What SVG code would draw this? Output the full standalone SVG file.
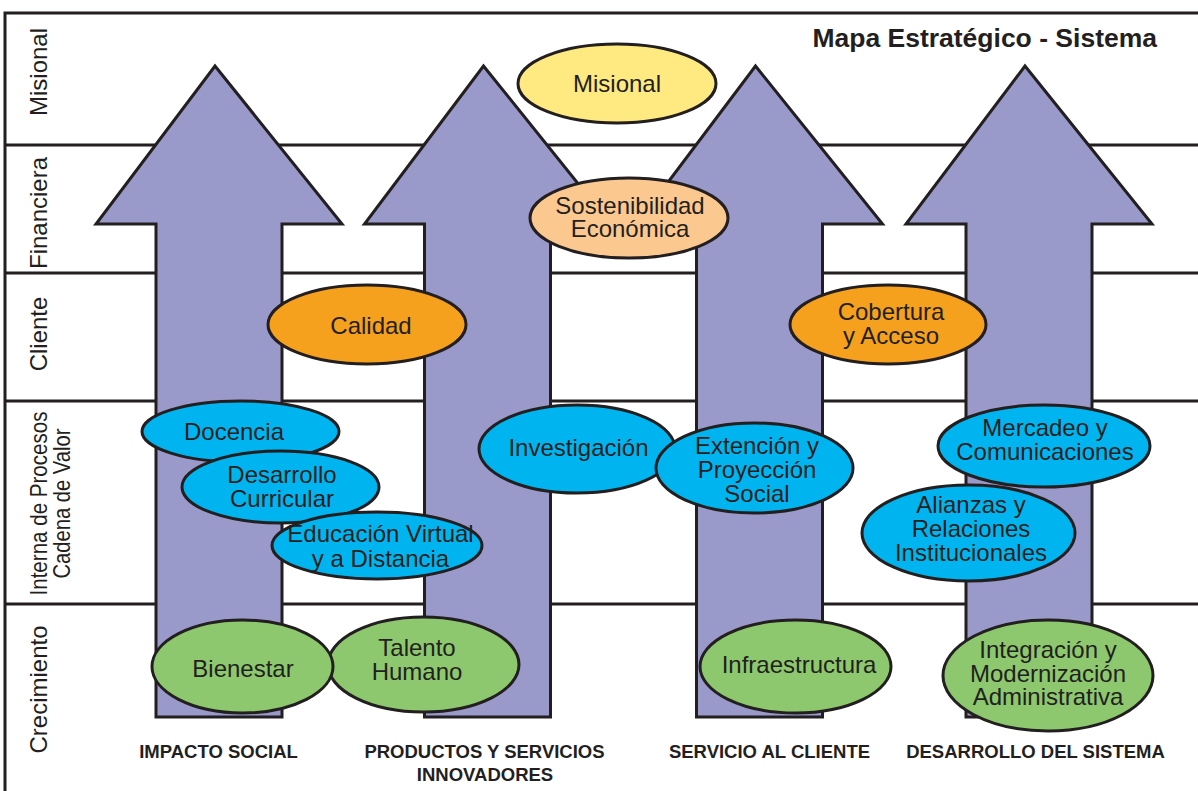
<svg xmlns="http://www.w3.org/2000/svg" width="1198" height="791" viewBox="0 0 1198 791">
<style>
.frame{fill:none;stroke:#231f20;stroke-width:3}
.arrow{fill:#9a9aca;stroke:#231f20;stroke-width:3;stroke-linejoin:miter}
.el{stroke:#231f20;stroke-width:3}
.yellow{fill:#ffe981}
.peach{fill:#fbc88f}
.orange{fill:#f6a11e}
.blue{fill:#00b5ef}
.green{fill:#8dc86e}
text{font-family:"Liberation Sans",Arial,sans-serif;fill:#231f20}
.lbl{font-size:24px;text-anchor:middle}
.row{font-size:24px;text-anchor:middle}
.col{font-size:18.5px;font-weight:bold;text-anchor:middle}
.title{font-size:26.5px;font-weight:bold;text-anchor:end}
</style>
<rect width="1198" height="791" fill="#ffffff"/>
<g id="grid">
<path class="frame" d="M5,791 V13 H1198 M5,145 H1198 M5,273 H1198 M5,401 H1198 M5,604 H1198"/>
</g>
<g id="row-labels">
<text class="row" transform="translate(47,72) rotate(-90)">Misional</text>
<text class="row" transform="translate(47,213) rotate(-90)">Financiera</text>
<text class="row" transform="translate(47,334) rotate(-90)">Cliente</text>
<text class="row" transform="translate(47,503.5) rotate(-90)" textLength="184" lengthAdjust="spacingAndGlyphs">Interna de Procesos</text>
<text class="row" transform="translate(70,503.5) rotate(-90)" textLength="150" lengthAdjust="spacingAndGlyphs">Cadena de Valor</text>
<text class="row" transform="translate(47,689.5) rotate(-90)">Crecimiento</text>
</g>
<text id="title" class="title" x="1157" y="47">Mapa Estratégico - Sistema</text>
<g id="connectors">
<path id="arrow-impacto" class="arrow" d="M215,66 L342,224 L282,224 L282,717 L156,717 L156,224 L96,224 Z"/>
<path id="arrow-productos" class="arrow" d="M483.5,66 L610.5,224 L550.5,224 L550.5,717 L424.5,717 L424.5,224 L364.5,224 Z"/>
<path id="arrow-servicio" class="arrow" d="M755.5,66 L882.5,224 L822.5,224 L822.5,717 L696.5,717 L696.5,224 L636.5,224 Z"/>
<path id="arrow-desarrollo" class="arrow" d="M1025,66 L1152,224 L1092,224 L1092,717 L966,717 L966,224 L906,224 Z"/>
</g>
<g id="column-labels">
<text class="col" x="218.5" y="758">IMPACTO SOCIAL</text>
<text class="col" x="484.5" y="758">PRODUCTOS Y SERVICIOS</text>
<text class="col" x="485" y="781">INNOVADORES</text>
<text class="col" x="769.5" y="758">SERVICIO AL CLIENTE</text>
<text class="col" x="1035.5" y="758">DESARROLLO DEL SISTEMA</text>
</g>
<g id="misional">
<ellipse class="el yellow" cx="617" cy="83.5" rx="99" ry="39.5"/>
<text class="lbl" x="617" y="92">Misional</text>
</g>
<g id="sostenibilidad">
<ellipse class="el peach" cx="629" cy="218" rx="99" ry="40"/>
<text class="lbl" x="630" y="214">Sostenibilidad</text>
<text class="lbl" x="630" y="237">Económica</text>
</g>
<g id="calidad">
<ellipse class="el orange" cx="367" cy="324.5" rx="99" ry="39.5"/>
<text class="lbl" x="371" y="334">Calidad</text>
</g>
<g id="cobertura">
<ellipse class="el orange" cx="888" cy="324.5" rx="98" ry="39.5"/>
<text class="lbl" x="891" y="320">Cobertura</text>
<text class="lbl" x="891" y="344">y Acceso</text>
</g>
<g id="docencia">
<ellipse class="el blue" cx="240.5" cy="431.5" rx="98.5" ry="30.5"/>
<text class="lbl" x="234" y="440">Docencia</text>
</g>
<g id="desarrollo-curricular">
<ellipse class="el blue" cx="280.5" cy="487" rx="98.5" ry="36"/>
<text class="lbl" x="282" y="483">Desarrollo</text>
<text class="lbl" x="282" y="507">Curricular</text>
</g>
<g id="educacion-virtual">
<ellipse class="el blue" cx="377" cy="545.5" rx="105" ry="33.5"/>
<text class="lbl" x="380.5" y="542">Educación Virtual</text>
<text class="lbl" x="380.5" y="567">y a Distancia</text>
</g>
<g id="talento-humano">
<ellipse class="el green" cx="423.5" cy="664.5" rx="95.5" ry="47.5"/>
<text class="lbl" x="417" y="656">Talento</text>
<text class="lbl" x="417" y="680">Humano</text>
</g>
<g id="bienestar">
<ellipse class="el green" cx="242.5" cy="666.5" rx="90.5" ry="46.5"/>
<text class="lbl" x="243" y="677">Bienestar</text>
</g>
<g id="investigacion">
<ellipse class="el blue" cx="577" cy="449" rx="98" ry="44"/>
<text class="lbl" x="578.5" y="456">Investigación</text>
</g>
<g id="extencion">
<ellipse class="el blue" cx="754.5" cy="468" rx="98.5" ry="45"/>
<text class="lbl" x="757" y="454">Extención y</text>
<text class="lbl" x="757" y="478">Proyección</text>
<text class="lbl" x="757" y="502">Social</text>
</g>
<g id="infraestructura">
<ellipse class="el green" cx="795.5" cy="666.5" rx="95.5" ry="46.5"/>
<text class="lbl" x="799" y="673">Infraestructura</text>
</g>
<g id="mercadeo">
<ellipse class="el blue" cx="1044" cy="446" rx="106" ry="41"/>
<text class="lbl" x="1045" y="436">Mercadeo y</text>
<text class="lbl" x="1045" y="460">Comunicaciones</text>
</g>
<g id="alianzas">
<ellipse class="el blue" cx="968.5" cy="533" rx="106.5" ry="48"/>
<text class="lbl" x="971" y="513">Alianzas y</text>
<text class="lbl" x="971" y="537">Relaciones</text>
<text class="lbl" x="971" y="561">Institucionales</text>
</g>
<g id="integracion">
<ellipse class="el green" cx="1048" cy="675.5" rx="105" ry="55.5"/>
<text class="lbl" x="1048" y="658">Integración y</text>
<text class="lbl" x="1048" y="682">Modernización</text>
<text class="lbl" x="1048" y="705">Administrativa</text>
</g>
</svg>
